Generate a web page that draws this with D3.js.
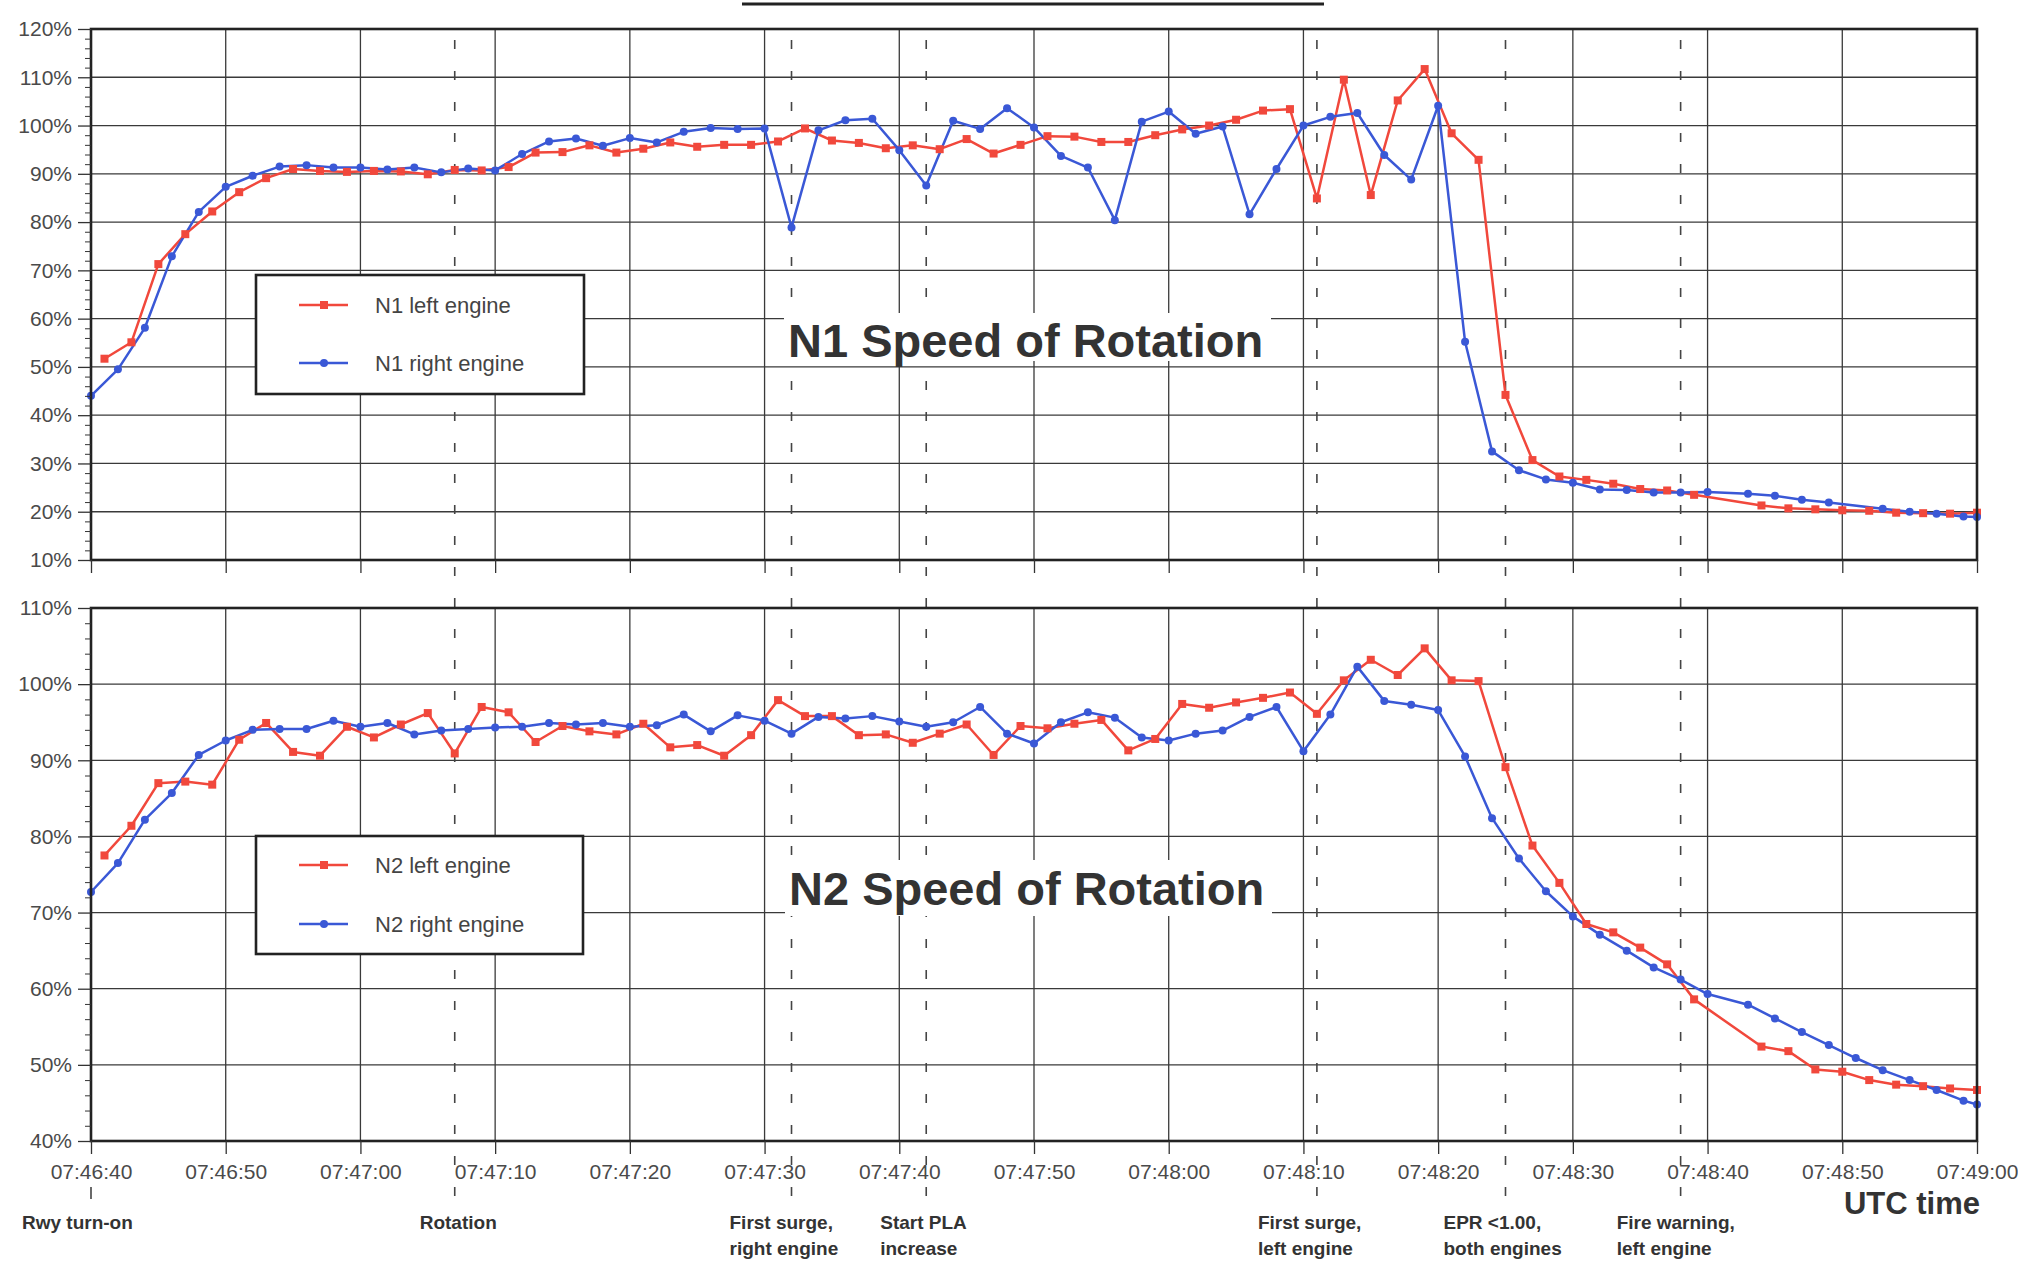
<!DOCTYPE html>
<html><head><meta charset="utf-8">
<script src="https://cdn.jsdelivr.net/npm/d3@7"></script>
<style>html,body{margin:0;padding:0;background:#fff;}svg{display:block;}</style>
</head><body>
<svg id="c" width="2018" height="1263"></svg>
<script>
// ---------------- DATA ----------------
// time in seconds after 07:46:40 UTC
const tickSeconds = [0,10,20,30,40,50,60,70,80,90,100,110,120,130,140];
const tickLabels = ["07:46:40","07:46:50","07:47:00","07:47:10","07:47:20","07:47:30","07:47:40","07:47:50","07:48:00","07:48:10","07:48:20","07:48:30","07:48:40","07:48:50","07:49:00"];
const n1Ticks = [10,20,30,40,50,60,70,80,90,100,110,120];
const n2Ticks = [40,50,60,70,80,90,100,110];

const n1LeftT = [1,3,5,7,9,11,13,15,17,19,21,23,25,27,29,31,33,35,37,39,41,43,45,47,49,51,53,55,57,59,61,63,65,67,69,71,73,75,77,79,81,83,85,87,89,91,93,95,97,99,101,103,105,107,109,111,113,115,117,119,124,126,128,130,132,134,136,138,140];
const n1Left = [51.7,55.1,71.3,77.5,82.2,86.2,89.1,91.0,90.6,90.4,90.6,90.5,89.9,90.8,90.7,91.4,94.4,94.5,95.9,94.4,95.2,96.5,95.6,96.0,96.0,96.7,99.4,96.9,96.4,95.3,95.9,95.1,97.2,94.2,96.0,97.8,97.7,96.6,96.6,98.0,99.2,100.0,101.2,103.1,103.4,84.9,109.5,85.6,105.2,111.7,98.4,92.9,44.2,30.7,27.3,26.6,25.8,24.7,24.4,23.5,21.3,20.7,20.5,20.3,20.2,19.8,19.7,19.6,19.8];

const n1RightT = [0,2,4,6,8,10,12,14,16,18,20,22,24,26,28,30,32,34,36,38,40,42,44,46,48,50,52,54,56,58,60,62,64,66,68,70,72,74,76,78,80,82,84,86,88,90,92,94,96,98,100,102,104,106,108,110,112,114,116,118,120,123,125,127,129,133,135,137,139,140];
const n1Right = [44.0,49.5,58.1,72.9,82.1,87.3,89.6,91.5,91.8,91.3,91.3,90.9,91.3,90.3,91.1,90.7,94.1,96.7,97.3,95.8,97.4,96.5,98.7,99.5,99.3,99.4,78.9,99.0,101.1,101.4,94.9,87.6,101.0,99.3,103.6,99.6,93.7,91.3,80.4,100.8,102.9,98.3,99.8,81.6,91.0,100.0,101.8,102.6,93.9,88.8,104.1,55.2,32.5,28.6,26.7,26.0,24.6,24.5,24.0,24.0,24.1,23.7,23.3,22.5,21.9,20.6,20.0,19.6,19.0,18.9];

const n2LeftT = [1,3,5,7,9,11,13,15,17,19,21,23,25,27,29,31,33,35,37,39,41,43,45,47,49,51,53,55,57,59,61,63,65,67,69,71,73,75,77,79,81,83,85,87,89,91,93,95,97,99,101,103,105,107,109,111,113,115,117,119,124,126,128,130,132,134,136,138,140];
const n2Left = [77.5,81.4,87.0,87.2,86.8,92.7,94.9,91.1,90.6,94.4,93.0,94.7,96.2,90.9,97.0,96.3,92.4,94.5,93.8,93.4,94.8,91.7,92.0,90.6,93.3,97.9,95.8,95.8,93.3,93.4,92.3,93.5,94.7,90.7,94.5,94.2,94.8,95.3,91.3,92.8,97.4,96.9,97.6,98.2,98.9,96.1,100.5,103.2,101.2,104.7,100.5,100.4,89.1,78.8,73.9,68.5,67.4,65.4,63.2,58.6,52.4,51.8,49.4,49.1,48.0,47.4,47.2,46.9,46.7];

const n2RightT = [0,2,4,6,8,10,12,14,16,18,20,22,24,26,28,30,32,34,36,38,40,42,44,46,48,50,52,54,56,58,60,62,64,66,68,70,72,74,76,78,80,82,84,86,88,90,92,94,96,98,100,102,104,106,108,110,112,114,116,118,120,123,125,127,129,131,133,135,137,139,140];
const n2Right = [72.7,76.5,82.2,85.7,90.7,92.6,94.0,94.1,94.1,95.2,94.4,94.9,93.4,93.9,94.1,94.3,94.4,94.9,94.7,94.9,94.4,94.6,96.0,93.8,95.9,95.2,93.5,95.7,95.5,95.8,95.1,94.4,95.0,97.0,93.5,92.2,95.0,96.3,95.6,93.0,92.6,93.5,93.9,95.7,97.0,91.2,96.0,102.3,97.8,97.3,96.6,90.5,82.4,77.1,72.8,69.5,67.1,65.0,62.8,61.2,59.3,57.9,56.1,54.3,52.6,50.9,49.3,48.0,46.7,45.3,44.8];

const eventSeconds = [0,27,52,62,91,105,118];
const eventLabels = [["Rwy turn-on"],["Rotation"],["First surge,","right engine"],["Start PLA","increase"],["First surge,","left engine"],["EPR <1.00,","both engines"],["Fire warning,","left engine"]];
const seriesNames = ["left engine","right engine"];

// ---------------- LAYOUT ----------------
const RED = "#f1483c", BLUE = "#3a58d6";
const FONT = "'Liberation Sans', Arial, Helvetica, sans-serif";
const svg = d3.select("#c");
svg.append("rect").attr("width",2018).attr("height",1263).attr("fill","#fff");
const X0 = 91, X1 = 1977;
const x = d3.scaleLinear().domain([0,140]).range([X0, X1]);
const eventLabelDx = [-69,-35,-62,-46,-59,-62,-64];

const panels = [
  { y: d3.scaleLinear().domain([10,120]).range([560,29]), ticks: n1Ticks, prefix: "N1",
    left: {t:n1LeftT, v:n1Left}, right: {t:n1RightT, v:n1Right},
    title: "N1 Speed of Rotation", titleBox:[784,313,487,48], titleBase:357,
    legend:[256,275,328,119], legY:[305,363] },
  { y: d3.scaleLinear().domain([40,110]).range([1141,608]), ticks: n2Ticks, prefix: "N2",
    left: {t:n2LeftT, v:n2Left}, right: {t:n2RightT, v:n2Right},
    title: "N2 Speed of Rotation", titleBox:[785,860,487,56], titleBase:905,
    legend:[256,836,327,118], legY:[865,924] }
];

// title underline (cut-off page heading)
svg.append("line").attr("x1",742).attr("x2",1324).attr("y1",4).attr("y2",4)
  .attr("stroke","#222").attr("stroke-width",3);

// grids
panels.forEach(p => {
  const [ymin, ymax] = p.y.range();
  const g = svg.append("g");
  g.selectAll("line.h").data(p.ticks).join("line")
    .attr("x1",X0).attr("x2",X1).attr("y1",d=>p.y(d)).attr("y2",d=>p.y(d))
    .attr("stroke","#3a3a3a").attr("stroke-width",1.3);
  g.selectAll("line.v").data(tickSeconds).join("line")
    .attr("x1",d=>x(d)).attr("x2",d=>x(d)).attr("y1",ymax).attr("y2",ymin)
    .attr("stroke","#3a3a3a").attr("stroke-width",1.3);
});

// event dashed lines
const ev = svg.append("g");
eventSeconds.forEach((s,i) => {
  const y1 = i === 0 ? 1187 : 40, y2 = i === 0 ? 1199 : 1206;
  ev.append("line").attr("x1",x(s)).attr("x2",x(s)).attr("y1",y1).attr("y2",y2)
    .attr("stroke","#444").attr("stroke-width",1.6)
    .attr("stroke-dasharray", i === 0 ? null : "9,22");
  const t = svg.append("text").attr("font-family",FONT).attr("font-weight","bold")
    .attr("font-size",19).attr("fill","#333");
  eventLabels[i].forEach((line,k) => {
    t.append("tspan").attr("x", x(s)+eventLabelDx[i]).attr("y", 1229 + k*26).text(line);
  });
});

panels.forEach(p => {
  const [ymin, ymax] = p.y.range();
  // title
  svg.append("rect").attr("x",p.titleBox[0]).attr("y",p.titleBox[1]).attr("width",p.titleBox[2]).attr("height",p.titleBox[3]).attr("fill","#fff");
  svg.append("text").attr("x",p.titleBox[0]+4).attr("y",p.titleBase)
    .attr("font-family",FONT).attr("font-weight","bold").attr("font-size",47).attr("fill","#333")
    .text(p.title);
  // legend
  const L = p.legend;
  svg.append("rect").attr("x",L[0]).attr("y",L[1]).attr("width",L[2]).attr("height",L[3])
    .attr("fill","#fff").attr("stroke","#222").attr("stroke-width",2.6);
  [[RED,"sq"],[BLUE,"ci"]].forEach((c,k) => {
    const yy = p.legY[k];
    svg.append("line").attr("x1",299).attr("x2",348).attr("y1",yy).attr("y2",yy).attr("stroke",c[0]).attr("stroke-width",2.5);
    if (c[1]==="sq") svg.append("rect").attr("x",320).attr("y",yy-4).attr("width",8).attr("height",8).attr("fill",c[0]);
    else svg.append("circle").attr("cx",324).attr("cy",yy).attr("r",4).attr("fill",c[0]);
    svg.append("text").attr("x",375).attr("y",yy).attr("dy","0.35em").attr("font-family",FONT)
      .attr("font-size",22).attr("fill","#444").text(p.prefix+" "+seriesNames[k]);
  });
  // data
  const line = d3.line().x(d=>x(d[0])).y(d=>p.y(d[1]));
  const L1 = p.left.t.map((t,i)=>[t,p.left.v[i]]);
  const R1 = p.right.t.map((t,i)=>[t,p.right.v[i]]);
  svg.append("path").datum(L1).attr("d",line).attr("fill","none").attr("stroke",RED).attr("stroke-width",2.5).attr("stroke-linejoin","round");
  svg.append("path").datum(R1).attr("d",line).attr("fill","none").attr("stroke",BLUE).attr("stroke-width",2.5).attr("stroke-linejoin","round");
  svg.append("g").selectAll("rect").data(L1).join("rect")
    .attr("x",d=>x(d[0])-4).attr("y",d=>p.y(d[1])-4).attr("width",8).attr("height",8).attr("fill",RED);
  svg.append("g").selectAll("circle").data(R1).join("circle")
    .attr("cx",d=>x(d[0])).attr("cy",d=>p.y(d[1])).attr("r",4).attr("fill",BLUE);
  // frame
  svg.append("rect").attr("x",X0).attr("y",ymax).attr("width",X1-X0).attr("height",ymin-ymax)
    .attr("fill","none").attr("stroke","#222").attr("stroke-width",2.6);
  // y axis major
  const ga = svg.append("g").attr("transform",`translate(${X0},0)`)
    .call(d3.axisLeft(p.y).tickValues(p.ticks).tickFormat(d=>d+"%").tickSize(13).tickPadding(6));
  ga.select(".domain").remove();
  ga.selectAll("line").attr("stroke","#333").attr("stroke-width",1.3);
  ga.selectAll("text").attr("font-family",FONT).attr("font-size",21).attr("fill","#4a4a4a");
  // y axis minor
  const dom = p.y.domain();
  const minor = d3.range(dom[0], dom[1], 2).filter(v => v % 10 !== 0);
  const gm = svg.append("g").attr("transform",`translate(${X0},0)`)
    .call(d3.axisLeft(p.y).tickValues(minor).tickFormat("").tickSize(6));
  gm.select(".domain").remove();
  gm.selectAll("line").attr("stroke","#333").attr("stroke-width",1);
  // x axis
  const gx = svg.append("g").attr("transform",`translate(0,${ymin})`)
    .call(d3.axisBottom(x).tickValues(tickSeconds).tickSize(13).tickPadding(10)
      .tickFormat((d,i)=> p.prefix==="N2" ? tickLabels[i] : ""));
  gx.select(".domain").remove();
  gx.selectAll("line").attr("stroke","#333").attr("stroke-width",1.3);
  gx.selectAll("text").attr("font-family",FONT).attr("font-size",21).attr("fill","#4a4a4a");
});

svg.append("text").attr("x",1980).attr("y",1214).attr("text-anchor","end")
  .attr("font-family",FONT).attr("font-weight","bold").attr("font-size",31).attr("fill","#333")
  .text("UTC time");
</script>
</body></html>
